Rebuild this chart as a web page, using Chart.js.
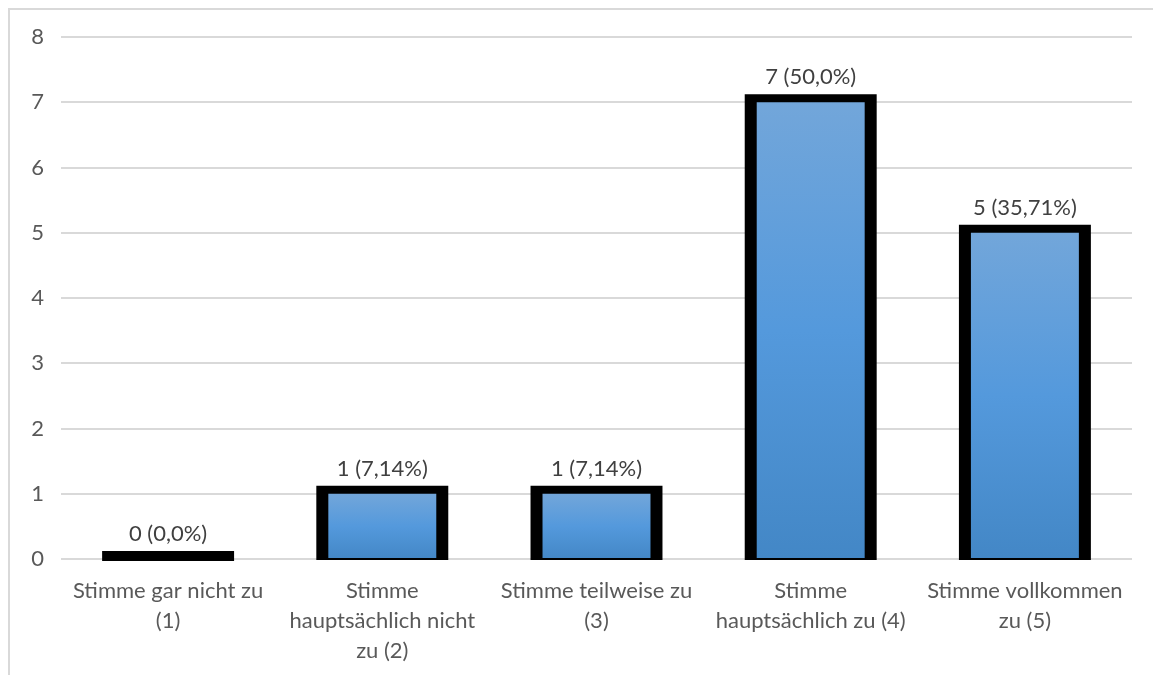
<!DOCTYPE html>
<html>
<head>
<meta charset="utf-8">
<script src="https://cdn.jsdelivr.net/npm/chart.js@4/dist/chart.umd.min.js"></script>
<style>
  html, body { margin: 0; padding: 0; background: #ffffff; }
  #wrap { width: 1153px; height: 675px; position: relative; }
</style>
</head>
<body>
<div id="wrap"><canvas id="c" width="1153" height="675"></canvas></div>
<script>
const categories = [
  ["Stimme gar nicht zu", "(1)"],
  ["Stimme", "hauptsächlich nicht", "zu (2)"],
  ["Stimme teilweise zu", "(3)"],
  ["Stimme", "hauptsächlich zu (4)"],
  ["Stimme vollkommen", "zu (5)"]
];
const counts = [0, 1, 1, 7, 5];
const percentLabels = ["0,0%", "7,14%", "7,14%", "50,0%", "35,71%"];
const yTicks = [0, 1, 2, 3, 4, 5, 6, 7, 8];

const FONT = "Lato, 'Open Sans', sans-serif";

const framePlugin = {
  id: 'frame',
  beforeDraw(chart) {
    const ctx = chart.ctx;
    ctx.save();
    ctx.strokeStyle = '#d9d9d9';
    ctx.lineWidth = 2;
    ctx.beginPath();
    ctx.moveTo(9, 675);
    ctx.lineTo(9, 9);
    ctx.lineTo(1153, 9);
    ctx.stroke();
    ctx.restore();
  }
};

const barOutline = {
  id: 'barOutline',
  beforeDatasetsDraw(chart) {
    const ctx = chart.ctx;
    const meta = chart.getDatasetMeta(0);
    ctx.save();
    ctx.fillStyle = '#000000';
    meta.data.forEach((bar) => {
      const p = bar.getProps(['x', 'y', 'base', 'width'], true);
      const left = p.x - p.width / 2 - 12;
      const right = p.x + p.width / 2 + 12;
      const top = p.y - 8;
      const bottom = p.base + 2;
      ctx.fillRect(left, top, right - left, bottom - top);
    });
    ctx.restore();
  },
  afterDatasetsDraw(chart) {
    const ctx = chart.ctx;
    const meta = chart.getDatasetMeta(0);
    ctx.save();
    ctx.fillStyle = '#404040';
    ctx.font = '22px ' + FONT;
    ctx.textAlign = 'center';
    ctx.textBaseline = 'middle';
    meta.data.forEach((bar, i) => {
      const p = bar.getProps(['x', 'y'], true);
      ctx.fillText(counts[i] + ' (' + percentLabels[i] + ')', p.x, p.y - 25);
    });
    ctx.restore();
  }
};

new Chart(document.getElementById('c'), {
  type: 'bar',
  data: {
    labels: categories,
    datasets: [{
      data: counts,
      borderWidth: 0,
      barPercentage: 0.504,
      categoryPercentage: 1.0,
      backgroundColor: (context) => {
        const chart = context.chart;
        const ys = chart.scales && chart.scales.y;
        if (!chart.chartArea || !ys || context.raw === undefined) return '#5499dc';
        const top = ys.getPixelForValue(context.raw);
        const base = ys.getPixelForValue(0);
        if (base - top < 1) return '#5499dc';
        const g = chart.ctx.createLinearGradient(0, top, 0, base);
        g.addColorStop(0, '#72a6da');
        g.addColorStop(0.5, '#5499dc');
        g.addColorStop(1, '#4387c6');
        return g;
      }
    }]
  },
  options: {
    responsive: false,
    animation: false,
    layout: { padding: { top: 37, right: 21, bottom: 0, left: 0 } },
    plugins: {
      legend: { display: false },
      tooltip: { enabled: false }
    },
    scales: {
      x: {
        grid: { display: false, drawTicks: false },
        border: { display: false },
        ticks: {
          color: '#595959',
          font: { family: FONT, size: 22, lineHeight: '30px' },
          maxRotation: 0,
          minRotation: 0,
          autoSkip: false,
          padding: 17
        },
        afterFit(scale) { scale.height = 116; }
      },
      y: {
        min: 0,
        max: 8,
        afterBuildTicks(scale) { scale.ticks = yTicks.map(v => ({ value: v })); },
        grid: { color: '#d9d9d9', lineWidth: 2, drawTicks: false },
        border: { display: false },
        ticks: {
          color: '#595959',
          font: { family: FONT, size: 22 },
          padding: 17
        },
        afterFit(scale) { scale.width = 61; }
      }
    }
  },
  plugins: [framePlugin, barOutline]
});
</script>
</body>
</html>
